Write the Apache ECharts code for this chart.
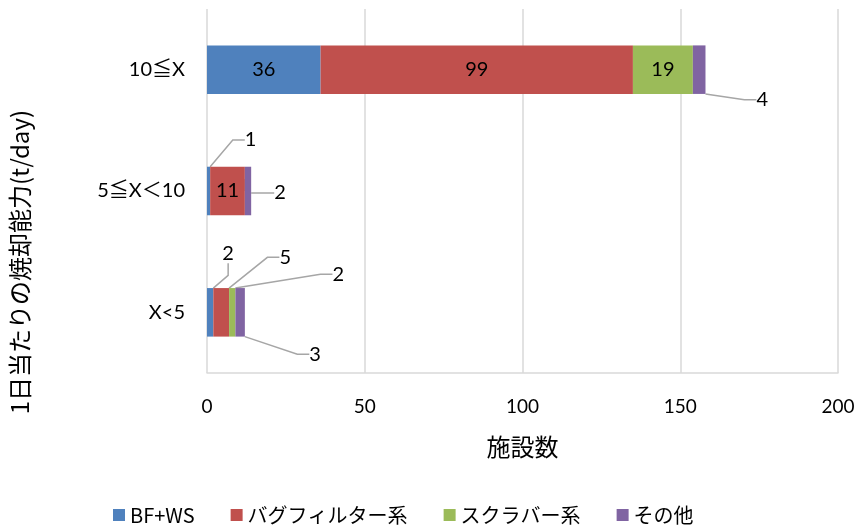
<!DOCTYPE html>
<html lang="ja">
<head>
  <meta charset="UTF-8">
  <title>1日当たりの焼却能力別 施設数</title>
  <script src="https://cdn.jsdelivr.net/npm/echarts@6/dist/echarts.min.js"></script>
</head>
<body>
<div id="chart"></div>
<style>
  html, body { margin: 0; width: 100%; height: 100%; background: #fff; }
  #chart { width: 860px; height: 531px; }
</style>
<script>
  // カテゴリ（下から上）
  const categories = ['X<5', '5≦X＜10', '10≦X'];
  const seriesNames = ['BF+WS', 'バグフィルター系', 'スクラバー系', 'その他'];
  const bfws = [2, 1, 36];
  const bagFilter = [5, 11, 99];
  const scrubber = [2, 0, 19];
  const others = [3, 2, 4];
  const colors = ['#4F81BD', '#C0504D', '#9BBB59', '#8064A2'];

  // 引き出し線付きラベルの位置（棒の中心からのずれ, px）
  const callouts = {
    '0-0': [18, -59], '0-1': [42, -51],
    '1-0': [64, -55],
    '2-0': [106, -38],
    '3-0': [75, 42], '3-1': [32, 2], '3-2': [63, 30]
  };

  const font = "Lato, 'Noto Sans CJK JP', sans-serif";
  const jpFont = "'Noto Sans CJK JP', sans-serif";
  const chart = echarts.init(document.getElementById('chart'));

  const allValues = [bfws, bagFilter, scrubber, others];
  const series = allValues.map((vals, si) => ({
    name: seriesNames[si],
    type: 'bar',
    stack: 'total',
    barCategoryGap: '60%',
    itemStyle: { color: colors[si] },
    label: {
      show: true,
      position: 'inside',
      color: '#000',
      fontSize: 20,
      fontFamily: font,
      formatter: p => p.value === 0 ? '' : p.value
    },
    labelLine: { show: true, length2: 12, lineStyle: { color: '#a6a6a6', width: 1.5 } },
    labelLayout: function (p) {
      const off = callouts[p.seriesIndex + '-' + p.dataIndex];
      if (!off) return {};
      const cx = p.rect.x + p.rect.width / 2;
      const cy = p.rect.y + p.rect.height / 2;
      return { x: cx + off[0], y: cy + off[1], align: 'center', verticalAlign: 'middle' };
    },
    data: vals
  }));

  chart.setOption({
    animation: false,
    color: colors,
    textStyle: { fontFamily: font },
    grid: { left: 207, right: 22, top: 9, bottom: 158 },
    legend: {
      bottom: 1,
      left: 108,
      itemWidth: 12,
      itemHeight: 12,
      itemGap: 36,
      icon: 'rect',
      textStyle: { fontSize: 20, color: '#000', fontFamily: jpFont },
      data: seriesNames
    },
    xAxis: {
      type: 'value',
      min: 0,
      max: 200,
      interval: 50,
      name: '施設数',
      nameLocation: 'middle',
      nameGap: 62,
      nameTextStyle: { fontSize: 24, color: '#000', fontFamily: jpFont },
      axisLine: { show: true, lineStyle: { color: '#d9d9d9', width: 1.5 } },
      axisTick: { show: false },
      axisLabel: { fontSize: 19, color: '#000', margin: 24, fontFamily: font },
      splitLine: { lineStyle: { color: '#d9d9d9', width: 1.5 } }
    },
    yAxis: {
      type: 'category',
      data: categories,
      axisLine: { show: false },
      axisTick: { show: false },
      axisLabel: { fontSize: 20, color: '#000', margin: 22, fontFamily: font }
    },
    graphic: [{
      type: 'text',
      left: 8,
      top: 110,
      rotation: Math.PI / 2,
      style: {
        text: '1日当たりの焼却能力(t/day)',
        fontSize: 24,
        fill: '#000',
        fontFamily: jpFont
      }
    }],
    series: series
  });
</script>
</body>
</html>
